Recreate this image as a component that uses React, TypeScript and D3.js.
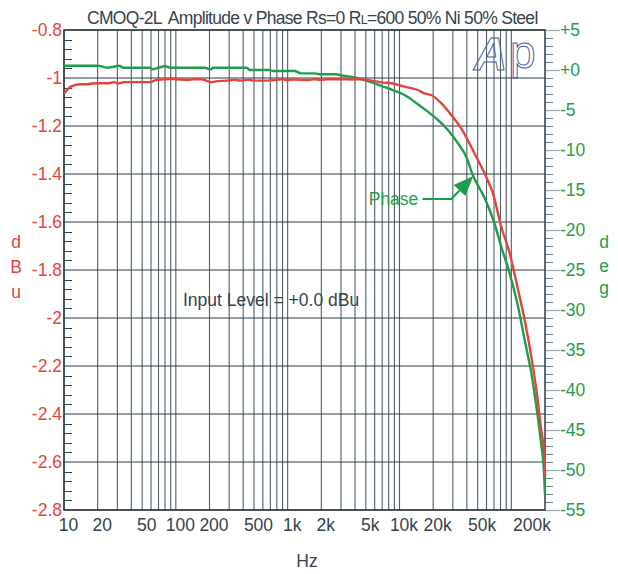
import React from "react";
import * as d3 from "d3";

// Amplitude (dBu, left axis) vs frequency
const ampFreq = [10, 11.5, 12.7, 14.1, 16.2, 18.6, 20.9, 24.4, 28, 31.1, 34.4, 39.5, 59.7, 64, 68.5, 90, 100, 127, 146, 167, 192, 206, 236, 290, 333, 382, 439, 502, 663, 760, 872, 1000, 1150, 1510, 1730, 1990, 2280, 3000, 3700, 4500, 5600, 6900, 8400, 11100, 14600, 16700, 19200, 23600, 29000, 35600, 43700, 50200, 59500, 68400, 81300, 96600, 115000, 131600, 151000, 167500, 185000, 198000, 200000];
const ampDb = [-1.065, -1.036, -1.029, -1.026, -1.026, -1.022, -1.022, -1.022, -1.018, -1.022, -1.017, -1.017, -1.017, -1.011, -1.008, -1.004, -1.005, -1.008, -1.005, -1.005, -1.013, -1.018, -1.013, -1.011, -1.008, -1.011, -1.008, -1.011, -1.011, -1.009, -1.005, -1.009, -1.006, -1.009, -1.005, -1.008, -1.005, -1.005, -1.006, -1.005, -1.011, -1.018, -1.022, -1.036, -1.05, -1.064, -1.071, -1.105, -1.154, -1.21, -1.286, -1.342, -1.411, -1.48, -1.62, -1.73, -1.883, -2.008, -2.161, -2.3, -2.467, -2.578, -2.66];

// Phase (deg, right axis) vs frequency
const phaseFreq = [10, 20, 24.4, 28, 31.1, 34, 59, 62, 70, 80, 90, 180, 206, 215, 430, 460, 690, 740, 1150, 1320, 1730, 1990, 2700, 3100, 4000, 4500, 6000, 6860, 8400, 11100, 13600, 17900, 22100, 27100, 33300, 40000, 44800, 57700, 70000, 81300, 96600, 115000, 131600, 151000, 167500, 183000, 196000, 200000];
const phaseDeg = [0.54, 0.54, 0.29, 0.42, 0.54, 0.29, 0.29, 0.08, 0.29, 0.46, 0.29, 0.29, 0.08, 0.29, 0.29, 0.0, 0.0, -0.125, -0.125, -0.42, -0.42, -0.54, -0.54, -0.71, -0.92, -1.125, -1.67, -2.0, -2.42, -3.13, -3.96, -5.21, -6.25, -7.5, -9.16, -11.0, -13.0, -16.0, -19.0, -22.1, -25.4, -29.6, -33.75, -37.9, -42.1, -46.25, -50.4, -53.1];

const xTickValues = [10, 20, 50, 100, 200, 500, 1000, 2000, 5000, 10000, 20000, 50000, 200000];
const xTickLabels = ["10", "20", "50", "100", "200", "500", "1k", "2k", "5k", "10k", "20k", "50k", "200k"];
const dbTicks = [-0.8, -1, -1.2, -1.4, -1.6, -1.8, -2, -2.2, -2.4, -2.6, -2.8];
const dbTickLabels = ["-0.8", "-1", "-1.2", "-1.4", "-1.6", "-1.8", "-2", "-2.2", "-2.4", "-2.6", "-2.8"];
const degTicks = [5, 0, -5, -10, -15, -20, -25, -30, -35, -40, -45, -50, -55];
const degTickLabels = ["+5", "+0", "-5", "-10", "-15", "-20", "-25", "-30", "-35", "-40", "-45", "-50", "-55"];

const RED = "#e2453b";
const GREEN = "#1e9e4c";
const DARK = "#34434d";
const FONT = "'Liberation Sans', Arial, Helvetica, sans-serif";
const FS = 17.5;

export default function App() {
  const left = 64, right = 545, top = 30, bottom = 510;
  const x = d3.scaleLog().domain([10, 200000]).range([left, right]);
  const yL = d3.scaleLinear().domain([-2.8, -0.8]).range([bottom, top]);
  const yR = d3.scaleLinear().domain([-55, 5]).range([bottom, top]);

  const gridX: number[] = [];
  [10, 100, 1000, 10000].forEach((d) => {
    for (let m = 1; m <= 9; m++) gridX.push(d * m);
  });
  gridX.push(100000);

  const minorDb = d3.range(0, 51).filter((i) => i % 5 !== 0).map((i) => -0.8 - i * 0.04);
  const minorDeg = d3.range(-55, 6).filter((v) => v % 5 !== 0);

  const ampLine = d3
    .line<number>()
    .x((_, i) => x(ampFreq[i]))
    .y((d) => yL(d))
    .curve(d3.curveMonotoneX);
  const phaseLine = d3
    .line<number>()
    .x((_, i) => x(phaseFreq[i]))
    .y((d) => yR(d))
    .curve(d3.curveMonotoneX);

  // arrow annotation
  const tipX = x(44800) + 1;
  const tipY = yR(-13) + 2;
  const elbowX = tipX - 22;
  const elbowY = tipY + 23;
  const len = Math.hypot(tipX - elbowX, tipY - elbowY);
  const ux = (tipX - elbowX) / len;
  const uy = (tipY - elbowY) / len;
  const bx = tipX - 20 * ux, by = tipY - 20 * uy;
  const px = -uy, py = ux;
  const head = `M${tipX},${tipY}L${bx + 8 * px},${by + 8 * py}L${bx - 8 * px},${by - 8 * py}Z`;

  return (
    <svg
      width={618}
      height={574}
      style={{ position: "absolute", left: 0, top: 0, background: "#fff" }}
      fontFamily={FONT}
    >
      <rect x={0} y={0} width={618} height={574} fill="#fff" />
      {/* vertical grid */}
      {gridX.map((f) => (
        <line key={"gx" + f} x1={x(f)} x2={x(f)} y1={top} y2={bottom} stroke="#4f5d65" strokeWidth={1.1} />
      ))}
      {/* horizontal grid */}
      {dbTicks.map((v) => (
        <line key={"gy" + v} x1={left} x2={right} y1={Math.round(yL(v))} y2={Math.round(yL(v))} stroke="#2c3a43" strokeWidth={1} />
      ))}
      {/* left minor ticks */}
      {minorDb.map((v) => (
        <line key={"ml" + v} x1={left} x2={left + 8} y1={Math.round(yL(v)) + 0.5} y2={Math.round(yL(v)) + 0.5} stroke={DARK} strokeWidth={1} />
      ))}
      {/* right minor ticks */}
      {minorDeg.map((v) => (
        <line key={"mr" + v} x1={right} x2={right + 8} y1={Math.round(yR(v)) + 0.5} y2={Math.round(yR(v)) + 0.5} stroke="#6f7f88" strokeWidth={1} />
      ))}
      {/* right major ticks */}
      {degTicks.map((v) => (
        <line key={"Mr" + v} x1={right} x2={right + 15} y1={Math.round(yR(v)) + 0.5} y2={Math.round(yR(v)) + 0.5} stroke="#9aaaae" strokeWidth={1.2} />
      ))}
      {/* frame */}
      <rect x={left} y={top} width={right - left} height={bottom - top} fill="none" stroke="#2c3a43" strokeWidth={1.5} />

      {/* Ap logo */}
      <text x={474} y={70} fontSize={46} fontStyle="italic" fontWeight="bold" fill="none" stroke="#4a5ea8" strokeWidth={1}>A</text>
      <text x={510} y={68} fontSize={46} fill="none" stroke="#4a5ea8" strokeWidth={1}>p</text>

      {/* curves */}
      <path d={phaseLine(phaseDeg) || ""} fill="none" stroke={GREEN} strokeWidth={2.4} />
      <path d={ampLine(ampDb) || ""} fill="none" stroke={RED} strokeWidth={2.4} />

      {/* annotation */}
      <text x={elbowX - 33} y={elbowY + 6} fontSize={FS} fill={GREEN} textAnchor="end">Phase</text>
      <path d={`M${elbowX - 29},${elbowY}L${elbowX},${elbowY}L${bx},${by}`} fill="none" stroke={GREEN} strokeWidth={2.2} />
      <path d={head} fill={GREEN} />

      <text x={183} y={306} fontSize={FS} fill={DARK}>Input Level = +0.0 dBu</text>

      {/* title */}
      <text x={87} y={24} fontSize={FS} fill={DARK} letterSpacing={-0.7}>
        CMOQ-2L<tspan dx={6}>Amplitude v Phase Rs=0 R</tspan><tspan fontSize={12.5}>L</tspan><tspan>=600 50% Ni 50% Steel</tspan>
      </text>

      {/* left labels */}
      {dbTicks.map((v, i) => (
        <text key={"tl" + v} x={left - 2} y={yL(v) + 6} fontSize={FS} fill={RED} textAnchor="end">{dbTickLabels[i]}</text>
      ))}
      {/* right labels */}
      {degTicks.map((v, i) => (
        <text key={"tr" + v} x={right + 15} y={yR(v) + 6} fontSize={FS} fill={GREEN}>{degTickLabels[i]}</text>
      ))}
      {/* x labels */}
      {xTickValues.map((f, i) =>
        i === xTickValues.length - 1 ? (
          <text key={"tx" + f} x={x(f) + 6} y={531} fontSize={FS} fill={DARK} textAnchor="end">{xTickLabels[i]}</text>
        ) : (
          <text key={"tx" + f} x={x(f) + 4.5} y={531} fontSize={FS} fill={DARK} textAnchor="middle">{xTickLabels[i]}</text>
        )
      )}
      <text x={307} y={567} fontSize={FS} fill={DARK} textAnchor="middle">Hz</text>

      {/* axis titles */}
      {["d", "B", "u"].map((c, i) => (
        <text key={"al" + i} x={16} y={[248, 273, 298][i]} fontSize={FS} fill={RED} textAnchor="middle">{c}</text>
      ))}
      {["d", "e", "g"].map((c, i) => (
        <text key={"ar" + i} x={604} y={[248, 272, 294][i]} fontSize={FS} fill={GREEN} textAnchor="middle">{c}</text>
      ))}
    </svg>
  );
}
